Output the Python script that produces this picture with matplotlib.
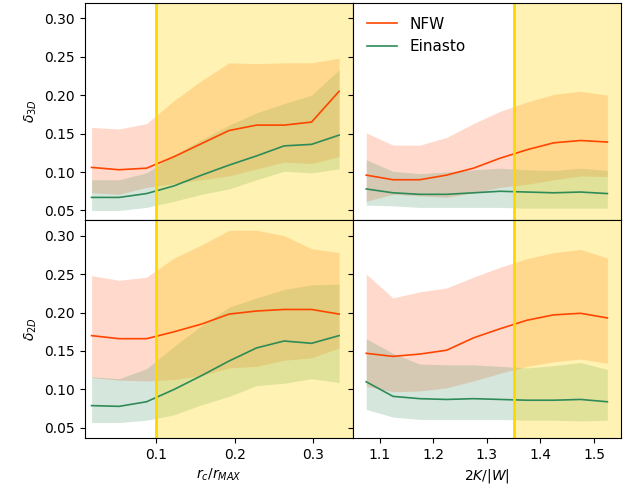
import numpy as np
import matplotlib.pyplot as plt

# bin centres
rc_bins = [0.0185, 0.0534, 0.0883, 0.1232, 0.1581, 0.1930, 0.2279, 0.2628, 0.2977, 0.3326]
vir_bins = [1.075, 1.125, 1.175, 1.225, 1.275, 1.325, 1.375, 1.425, 1.475, 1.525]

# delta_3D vs r_c/r_MAX
nfw_3d_rc = [0.106, 0.103, 0.105, 0.120, 0.137, 0.154, 0.161, 0.161, 0.165, 0.205]
nfw_3d_rc_hi = [0.158, 0.156, 0.163, 0.193, 0.219, 0.242, 0.241, 0.242, 0.242, 0.248]
nfw_3d_rc_lo = [0.073, 0.071, 0.080, 0.085, 0.090, 0.095, 0.104, 0.113, 0.111, 0.120]
ein_3d_rc = [0.067, 0.067, 0.072, 0.082, 0.096, 0.109, 0.121, 0.134, 0.136, 0.148]
ein_3d_rc_hi = [0.090, 0.090, 0.099, 0.122, 0.142, 0.161, 0.177, 0.189, 0.200, 0.233]
ein_3d_rc_lo = [0.050, 0.050, 0.054, 0.062, 0.071, 0.078, 0.090, 0.101, 0.099, 0.104]

# delta_3D vs 2K/|W|
nfw_3d_vir = [0.096, 0.090, 0.090, 0.096, 0.105, 0.118, 0.129, 0.138, 0.141, 0.139]
nfw_3d_vir_hi = [0.151, 0.135, 0.135, 0.145, 0.163, 0.179, 0.191, 0.201, 0.205, 0.200]
nfw_3d_vir_lo = [0.062, 0.071, 0.069, 0.067, 0.073, 0.080, 0.084, 0.090, 0.095, 0.094]
ein_3d_vir = [0.078, 0.073, 0.071, 0.071, 0.073, 0.075, 0.074, 0.073, 0.074, 0.072]
ein_3d_vir_hi = [0.116, 0.101, 0.098, 0.100, 0.103, 0.105, 0.103, 0.102, 0.105, 0.102]
ein_3d_vir_lo = [0.057, 0.056, 0.054, 0.054, 0.054, 0.054, 0.053, 0.053, 0.053, 0.053]

# delta_2D vs r_c/r_MAX
nfw_2d_rc = [0.170, 0.166, 0.166, 0.175, 0.185, 0.198, 0.202, 0.204, 0.204, 0.198]
nfw_2d_rc_hi = [0.248, 0.242, 0.246, 0.271, 0.288, 0.307, 0.307, 0.300, 0.283, 0.278]
nfw_2d_rc_lo = [0.1155, 0.112, 0.111, 0.113, 0.118, 0.128, 0.130, 0.138, 0.141, 0.154]
ein_2d_rc = [0.079, 0.078, 0.084, 0.100, 0.118, 0.137, 0.154, 0.163, 0.160, 0.170]
ein_2d_rc_hi = [0.1165, 0.114, 0.127, 0.156, 0.183, 0.207, 0.219, 0.230, 0.236, 0.237]
ein_2d_rc_lo = [0.057, 0.057, 0.060, 0.067, 0.080, 0.091, 0.105, 0.108, 0.114, 0.109]

# delta_2D vs 2K/|W|
nfw_2d_vir = [0.147, 0.143, 0.146, 0.151, 0.167, 0.179, 0.190, 0.197, 0.199, 0.193]
nfw_2d_vir_hi = [0.250, 0.219, 0.227, 0.232, 0.246, 0.259, 0.270, 0.278, 0.282, 0.271]
nfw_2d_vir_lo = [0.104, 0.097, 0.098, 0.102, 0.111, 0.121, 0.130, 0.136, 0.1395, 0.134]
ein_2d_vir = [0.110, 0.091, 0.088, 0.087, 0.088, 0.087, 0.086, 0.086, 0.087, 0.084]
ein_2d_vir_hi = [0.166, 0.147, 0.133, 0.132, 0.132, 0.130, 0.128, 0.131, 0.135, 0.126]
ein_2d_vir_lo = [0.074, 0.064, 0.061, 0.061, 0.061, 0.061, 0.060, 0.060, 0.059, 0.060]

rc_cut = 0.1
vir_cut = 1.35

nfw_col = 'orangered'
ein_col = 'seagreen'

fig, axes = plt.subplots(2, 2, figsize=(6.38, 4.93), dpi=100, sharey=True, sharex='col')
fig.subplots_adjust(left=0.133, right=0.973, top=0.994, bottom=0.112, hspace=0, wspace=0)

panels = [
    (axes[0, 0], rc_bins, nfw_3d_rc, nfw_3d_rc_lo, nfw_3d_rc_hi, ein_3d_rc, ein_3d_rc_lo, ein_3d_rc_hi),
    (axes[0, 1], vir_bins, nfw_3d_vir, nfw_3d_vir_lo, nfw_3d_vir_hi, ein_3d_vir, ein_3d_vir_lo, ein_3d_vir_hi),
    (axes[1, 0], rc_bins, nfw_2d_rc, nfw_2d_rc_lo, nfw_2d_rc_hi, ein_2d_rc, ein_2d_rc_lo, ein_2d_rc_hi),
    (axes[1, 1], vir_bins, nfw_2d_vir, nfw_2d_vir_lo, nfw_2d_vir_hi, ein_2d_vir, ein_2d_vir_lo, ein_2d_vir_hi),
]

for ax, x, nfw, nlo, nhi, ein, elo, ehi in panels:
    ax.fill_between(x, nlo, nhi, color=nfw_col, alpha=0.2, lw=0)
    ax.fill_between(x, elo, ehi, color=ein_col, alpha=0.2, lw=0)
    ax.plot(x, nfw, color=nfw_col, lw=1.2, label='NFW')
    ax.plot(x, ein, color=ein_col, lw=1.2, label='Einasto')

# selection cuts
for ax in axes[:, 0]:
    ax.axvspan(rc_cut, 0.35, color='gold', alpha=0.3, lw=0)
    ax.axvline(rc_cut, color='gold', lw=2)
    ax.set_xlim(0.01, 0.35)
for ax in axes[:, 1]:
    ax.axvspan(vir_cut, 1.55, color='gold', alpha=0.3, lw=0)
    ax.axvline(vir_cut, color='gold', lw=2)
    ax.set_xlim(1.05, 1.55)

axes[0, 0].set_ylabel(r'$\delta_{3D}$')
axes[1, 0].set_ylabel(r'$\delta_{2D}$')
axes[1, 0].set_xlabel(r'$r_c/r_{MAX}$')
axes[1, 1].set_xlabel(r'$2K/|W|$')
axes[0, 0].set_xticks([0.1, 0.2, 0.3])
axes[0, 0].set_yticks([0.05, 0.10, 0.15, 0.20, 0.25, 0.30])

axes[0, 1].legend(loc='upper left', frameon=False, fontsize=11)

plt.savefig('out.png')
